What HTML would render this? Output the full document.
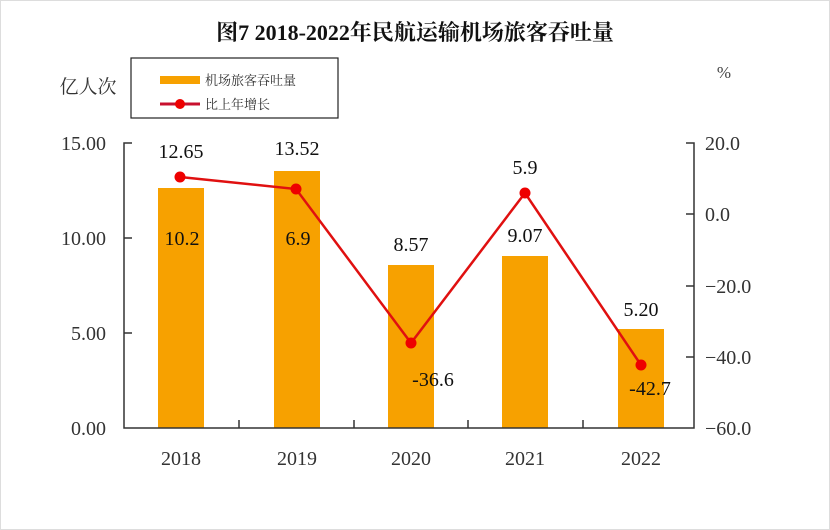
<!DOCTYPE html>
<html><head><meta charset="utf-8"><style>
body{margin:0;background:#fff;}
svg{display:block;font-family:"Liberation Serif","Noto Serif CJK SC",serif;}
</style></head><body>
<svg width="830" height="530" viewBox="0 0 830 530" xmlns="http://www.w3.org/2000/svg">
<rect x="0.5" y="0.5" width="829" height="529" fill="#fff" stroke="#ddd"/>
<text x="415" y="40" text-anchor="middle" font-size="22" font-weight="bold" font-family="Liberation Serif,'Noto Serif CJK SC',serif" fill="#111">图7 2018-2022年民航运输机场旅客吞吐量</text>
<text x="88" y="93" text-anchor="middle" font-size="19" fill="#333">亿人次</text>
<text x="724" y="78" text-anchor="middle" font-size="17" fill="#444">%</text>
<rect x="131" y="58" width="207" height="60" fill="#fff" stroke="#222" stroke-width="1.2"/>
<rect x="160" y="76" width="40" height="8" fill="#f7a100"/>
<text x="205" y="85" font-size="13" fill="#333">机场旅客吞吐量</text>
<line x1="160" y1="104" x2="200" y2="104" stroke="#c8102e" stroke-width="3"/>
<circle cx="180" cy="104" r="5" fill="#e00"/>
<text x="205" y="109" font-size="13" fill="#333">比上年增长</text>
<g fill="#f7a100">
<rect x="158" y="188" width="46" height="240"/>
<rect x="274" y="171" width="46" height="257"/>
<rect x="388" y="265" width="46" height="163"/>
<rect x="502" y="256" width="46" height="172"/>
<rect x="618" y="329" width="46" height="99"/>
</g>
<g stroke="#333" stroke-width="1.5" fill="none">
<polyline points="132,143 124,143 124,428 694,428 694,143 686,143"/>
<line x1="124" y1="238" x2="132" y2="238"/>
<line x1="124" y1="333" x2="132" y2="333"/>
<line x1="694" y1="214" x2="686" y2="214"/>
<line x1="694" y1="286" x2="686" y2="286"/>
<line x1="694" y1="357" x2="686" y2="357"/>
<line x1="239" y1="428" x2="239" y2="420"/>
<line x1="354" y1="428" x2="354" y2="420"/>
<line x1="468" y1="428" x2="468" y2="420"/>
<line x1="583" y1="428" x2="583" y2="420"/>
</g>
<polyline points="180,177 296,189 411,343 525,193 641,365" fill="none" stroke="#e01010" stroke-width="2.5"/>
<g fill="#e00">
<circle cx="180" cy="177" r="5.5"/><circle cx="296" cy="189" r="5.5"/><circle cx="411" cy="343" r="5.5"/><circle cx="525" cy="193" r="5.5"/><circle cx="641" cy="365" r="5.5"/>
</g>
<g font-size="20" fill="#333" text-anchor="end">
<text x="106" y="150">15.00</text><text x="106" y="245">10.00</text><text x="106" y="340">5.00</text><text x="106" y="435">0.00</text>
</g>
<g font-size="20" fill="#333" text-anchor="start">
<text x="705" y="150">20.0</text><text x="705" y="221">0.0</text><text x="705" y="293">−20.0</text><text x="705" y="364">−40.0</text><text x="705" y="435">−60.0</text>
</g>
<g font-size="20" fill="#333" text-anchor="middle">
<text x="181" y="465">2018</text><text x="297" y="465">2019</text><text x="411" y="465">2020</text><text x="525" y="465">2021</text><text x="641" y="465">2022</text>
</g>
<g font-size="20" fill="#111" text-anchor="middle">
<text x="181" y="158">12.65</text><text x="297" y="155">13.52</text><text x="411" y="251">8.57</text><text x="525" y="242">9.07</text><text x="641" y="316">5.20</text>
<text x="182" y="245">10.2</text><text x="298" y="245">6.9</text><text x="433" y="386">-36.6</text><text x="525" y="174">5.9</text><text x="650" y="395">-42.7</text>
</g>
</svg>
</body></html>
